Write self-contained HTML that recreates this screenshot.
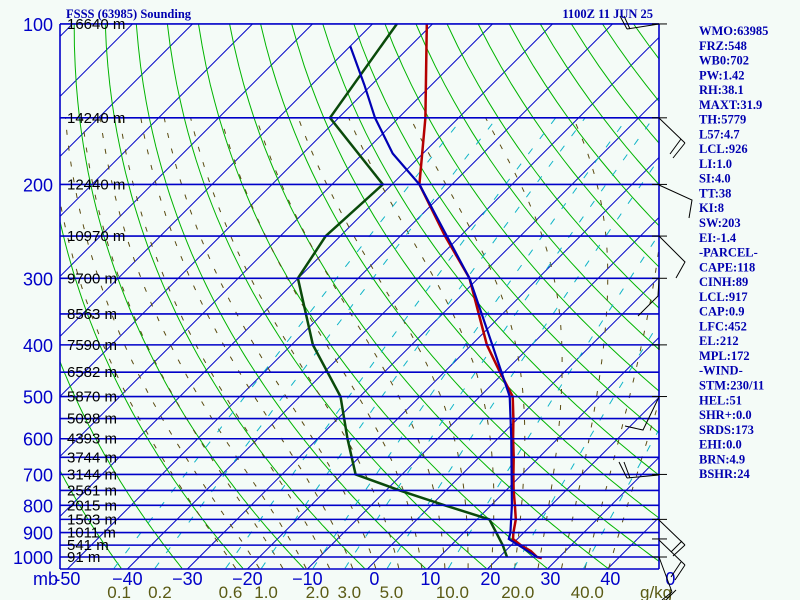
<!DOCTYPE html>
<html><head><meta charset="utf-8">
<style>
html,body{margin:0;padding:0;background:#f4fbf7;}
svg{display:block;}
.pl{font-family:"Liberation Sans",sans-serif;font-size:18px;fill:#0000c8;}
.hl{font-family:"Liberation Sans",sans-serif;font-size:15px;fill:#000;}
.ml{font-family:"Liberation Sans",sans-serif;font-size:17px;fill:#5a5a14;}
.ti{font-family:"Liberation Serif",serif;font-size:12.5px;font-weight:bold;fill:#0000b0;}
</style></head>
<body>
<svg id="chart" width="800" height="600" viewBox="0 0 800 600" xmlns="http://www.w3.org/2000/svg">
<rect x="0" y="0" width="800" height="600" fill="#f4fbf7"/>
<defs><clipPath id="plotclip"><rect x="60" y="24" width="599" height="545"/></clipPath></defs>
<g id="grid" clip-path="url(#plotclip)"></g>
<g id="profiles" clip-path="url(#plotclip)"></g>
<g id="overlay"></g>
<text class="ti" x="66" y="18">FSSS (63985) Sounding</text>
<text class="ti" x="653" y="18" text-anchor="end">1100Z 11 JUN 25</text>
</svg>
<script>
// ---- data ----
const pressureLevels = [100,150,200,250,300,350,400,450,500,550,600,650,700,750,800,850,900,950,1000];
const heightLabels = ["16640 m","14240 m","12440 m","10970 m","9700 m","8563 m","7590 m","6582 m","5870 m","5098 m","4393 m","3744 m","3144 m","2561 m","2015 m","1503 m","1011 m","541 m","91 m"];
const pressureTicks = [100,200,300,400,500,600,700,800,900,1000];
const tempTicks = [-50,-40,-30,-20,-10,0,10,20,30,40,50];
const tempTickLabels = ["-50","\u221240","\u221230","\u221220","\u221210","0","10","20","30","40","0"];
const mixRatios = [0.1,0.2,0.6,1.0,2.0,3.0,5.0,10.0,20.0,40.0];
const tempP = [100,150,200,250,300,350,400,450,500,550,600,650,700,750,800,850,900,925,950,975,1000,1005];
const tempT = [-79.7,-64.3,-54.2,-41.3,-30.2,-22.7,-16.2,-9.5,-3.3,0.5,3.8,7,9.8,12.5,15.2,17.7,19.5,20.5,22.8,25.5,27.5,28.5];
const parcelP = [110,130,150,175,200,250,300,400,500,600,700,800,900,925,1000];
const parcelT = [-88.8,-80,-72.7,-63.8,-54.2,-41,-30.2,-15.3,-3.8,3.5,9.5,14.7,19,19.8,27.5];
const dewP = [100,150,200,250,300,400,500,600,700,750,800,850,950,1000];
const dewT = [-84.7,-80.2,-60.3,-61.2,-58.8,-45.2,-32,-23.8,-16.5,-6.5,3.5,13.3,19.8,22.5];
const windP = [100,150,200,250,300,400,500,700,850,925,1000];
const statLabels = ["WMO:63985","FRZ:548","WB0:702","PW:1.42","RH:38.1","MAXT:31.9","TH:5779","L57:4.7","LCL:926","LI:1.0","SI:4.0","TT:38","KI:8","SW:203","EI:-1.4","-PARCEL-","CAPE:118","CINH:89","LCL:917","CAP:0.9","LFC:452","EL:212","MPL:172","-WIND-","STM:230/11","HEL:51","SHR+:0.0","SRDS:173","EHI:0.0","BRN:4.9","BSHR:24"];

// ---- axes ----
const NS="http://www.w3.org/2000/svg";
function yAt(p){return 557-231.5*Math.log(1000/p);}
function xAt(T,p){return 60+(T+50)*6+(569-yAt(p));}
function mk(tag,attrs,parent){const e=document.createElementNS(NS,tag);for(const k in attrs)e.setAttribute(k,attrs[k]);parent.appendChild(e);return e;}
function pathOf(ps,ts){return ps.map((p,i)=>(i?"L":"M")+xAt(ts[i],p).toFixed(1)+","+yAt(p).toFixed(1)).join("");}
const grid=document.getElementById('grid'),prof=document.getElementById('profiles'),ov=document.getElementById('overlay');

// isotherms
for(let T=-160;T<=50;T+=10){
  const l=mk('line',{x1:xAt(T,1020),y1:569,x2:xAt(T,1020)+545,y2:24,stroke:'#0000c8','stroke-width':1},grid);
  
  
}
// dry adiabats
for(let th=220;th<=470;th+=10){
  let d="";for(let p=1050;p>=95;p-=10){const T=th*Math.pow(p/1000,0.2857)-273.15;d+=(d?"L":"M")+xAt(T,p).toFixed(1)+","+yAt(p).toFixed(1);}
  const e=mk('path',{d:d,fill:'none',stroke:'#00b400','stroke-width':1},grid);
  
  
}
// moist adiabats
function es(T){return 6.112*Math.exp(17.67*T/(T+243.5));}
function moistStep(T,p,dp){const Tk=T+273.15,rs=0.622*es(T)/(p-es(T)),Lv=2.5e6,Rd=287,cp=1005;
  const g=(Rd*Tk+Lv*rs)/(cp+Lv*Lv*rs*0.622/(Rd*Tk*Tk));return T+g*dp/p;}
for(let tw=-24;tw<=40;tw+=4){
  let T=tw,pts=[];
  for(let p=1000;p<=1050;p+=5){pts.push([p,T]);T=moistStep(T,p,5);}
  pts.reverse();T=tw;
  for(let p=1000;p>=150;p-=5){pts.push([p,T]);T=moistStep(T,p,-5);}
  const d=pts.map((q,i)=>(i?"L":"M")+xAt(q[1],q[0]).toFixed(1)+","+yAt(q[0]).toFixed(1)).join("");
  const e=mk('path',{d:d,fill:'none',stroke:'#5a4a10','stroke-width':1,'stroke-dasharray':'5 11'},grid);
  
  
}
// mixing ratio lines
function tdFromW(w,p){const e=w*p/(622+w);const l=Math.log(e/6.112);return 243.5*l/(17.67-l);}
mixRatios.forEach(w=>{
  let d="";for(let p=1050;p>=150;p-=10){d+=(d?"L":"M")+xAt(tdFromW(w,p),p).toFixed(1)+","+yAt(p).toFixed(1);}
  const e=mk('path',{d:d,fill:'none',stroke:'#10b4c8','stroke-width':1,'stroke-dasharray':'7 12'},grid);
  
  
  const t=mk('text',{x:xAt(tdFromW(w,1020),1020),y:598,'text-anchor':'middle',class:'ml'},ov);
  t.textContent=w.toFixed(1);
  
  
});
// isobars
pressureLevels.forEach((p,i)=>{
  const l=mk('line',{x1:60,y1:yAt(p),x2:659,y2:yAt(p),stroke:'#0000c8','stroke-width':1.6},ov);
  
  
  const t=mk('text',{x:67,y:yAt(p)+5,class:'hl'},ov);
  t.textContent=heightLabels[i];
  
  
});
mk('line',{x1:60,y1:24,x2:60,y2:569,stroke:'#0000c8','stroke-width':1.6},ov);
mk('line',{x1:659,y1:24,x2:659,y2:569,stroke:'#0000c8','stroke-width':1.6},ov);
mk('line',{x1:60,y1:569,x2:659,y2:569,stroke:'#0000c8','stroke-width':1.6},ov);
pressureTicks.forEach(p=>{
  const t=mk('text',{x:53,y:yAt(p)+7,'text-anchor':'end',class:'pl'},ov);
  t.textContent=String(p);
  
  
});
tempTicks.forEach((T,i)=>{
  const x=xAt(T,1020);
  const t=mk('text',{x:T<0?x:x+(T===0?7:3),y:585,'text-anchor':'middle',class:'pl'},ov);
  t.textContent=tempTickLabels[i];
  
  
});
{const t=mk('text',{x:33,y:585,class:'pl'},ov);t.textContent="mb";

}
{const t=mk('text',{x:640,y:598,class:'ml'},ov);t.textContent="g/kg";

}

// profiles
{const e=mk('path',{d:pathOf(dewP,dewT),fill:'none',stroke:'#0a4a0a','stroke-width':2.5},prof);

}
{const e=mk('path',{d:pathOf(tempP,tempT),fill:'none',stroke:'#b40000','stroke-width':2.5},prof);

}
{const e=mk('path',{d:pathOf(parcelP,parcelT),fill:'none',stroke:'#0000b4','stroke-width':2.2},prof);

}

// wind barbs (shapes relative to level tick)
const barbShapes=[
 "M659,24L627,29M627,29L620,16M630,29L624,16",
 "M659,118L685,143M685,143L673,158M681,139L670,154",
 "M659,185L692,200L689,218",
 "M659,236L685,262L676,278",
 "M659,279L658,296L638,316",
 "M659,345L659,350",
 "M659,397L643,430L625,426",
 "M659,475L627,478M627,478L619,462M630,478L624,462",
 "M659,520L685,545M685,545L673,556M682,541L671,552",
 "M659,540L685,565M685,565L675,580M681,562L671,577",
 "M659,557L672,592M672,592L662,600M676,590L666,600"];
windP.forEach((p,i)=>{
  const y=yAt(p);
  mk('line',{x1:652,y1:y,x2:667,y2:y,stroke:'#000','stroke-width':1},ov);
  const e=mk('path',{d:barbShapes[i]||"",fill:'none',stroke:'#000','stroke-width':1},ov);
  
  
});
// stats panel
statLabels.forEach((s,i)=>{
  const t=mk('text',{x:699,y:35+i*14.77,class:'ti'},ov);
  t.textContent=s;
  
  
});
</script>
</body></html>
